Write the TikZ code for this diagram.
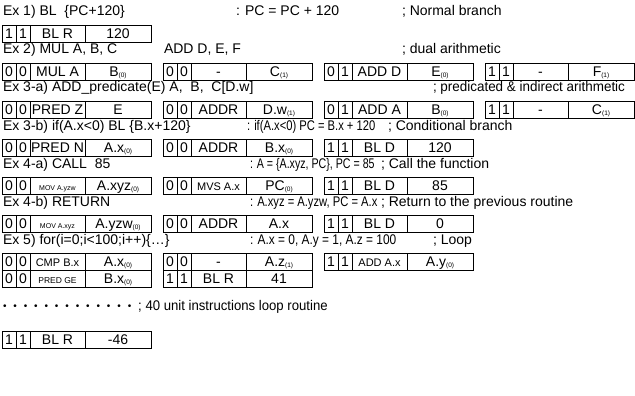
\documentclass[tikz,border=0pt]{standalone}
\usepackage{fontspec}
\usepackage{graphicx}
\setmainfont{Liberation Sans}
\usetikzlibrary{positioning}
\def \fh {17pt}    % field height
\def \bw {14pt}    % bit field
\def \ow {55pt}    % opcode field
\def \vw {66pt}    % operand field
\tikzset{
  field/.style = {draw, line width = 0.8pt, inner sep = 0pt, outer sep = 0pt,
    minimum height = \fh, text height = 10pt, text depth = 0pt, anchor = west},
  bit/.style = {field, minimum width = \bw},
  opcode/.style = {field, minimum width = \ow},
  operand/.style = {field, minimum width = \vw},
  caption/.style = {anchor = base west, inner sep = 0pt, outer sep = 0pt}
}
\newcommand{\ix}[1]{\raisebox{-1pt}{\fontsize{6.5}{7}\selectfont(#1)}}
\newcommand{\tinyop}{\fontsize{7}{8}\selectfont}
\newcommand{\smallop}{\fontsize{8.5}{9}\selectfont}
\newcommand{\midop}{\fontsize{11}{12}\selectfont}
\newcommand{\squeeze}[2]{\scalebox{#1}[1]{#2}}
%% one instruction word: name, top left, bit, bit, opcode, operand
\newcommand{\word}[6]{%
  \node [bit, anchor = north west] (#1a) at (#2) {#3};
  \node [bit] (#1b) [right = 0pt of #1a] {#4};
  \node [opcode] (#1c) [right = 0pt of #1b] {#5};
  \node [operand] (#1d) [right = 0pt of #1c] {#6};
}
\newcommand{\dotrow}{\foreach \k in {1,...,13}{\makebox[10.4pt][l]{\raisebox{0.6pt}{\fontsize{10}{10}\selectfont\textbullet}}}}

\begin{document}
\begin{tikzpicture}[x = 1pt, y = -1pt, font = \fontsize{14}{16}\selectfont]
\useasboundingbox (0,0) rectangle (635,396);

%% Ex 1
\node [caption] (t1) at (3,16) {Ex 1) BL~~\{PC+120\}};
\node [caption] (s1) at (236,16) {: PC = PC + 120};
\node [caption] (c1) at (402,16) {; Normal branch};
\word{w11}{2,25}{1}{1}{BL R}{120}

%% Ex 2
\node [caption] (t2) at (3,54) {Ex 2) MUL A, B, C};
\node [caption] (u2) at (164,54) {ADD D, E, F};
\node [caption] (c2) at (402,54) {; dual arithmetic};
\word{w21}{2,63}{0}{0}{MUL A}{B\ix{0}}
\word{w22}{163,63}{0}{0}{-}{C\ix{1}}
\word{w23}{324,63}{0}{1}{ADD D}{E\ix{0}}
\word{w24}{485,63}{1}{1}{-}{F\ix{1}}

%% Ex 3-a
\node [caption] (t3) at (3,92) {Ex 3-a) ADD\_predicate(E) A,~ B,~ C[D.w]};
\node [caption] (c3) at (433,92) {\squeeze{0.96}{; predicated \& indirect arithmetic}};
\word{w31}{2,101}{0}{0}{PRED Z}{E}
\word{w32}{163,101}{0}{0}{ADDR}{D.w\ix{1}}
\word{w33}{324,101}{0}{1}{ADD A}{B\ix{0}}
\word{w34}{485,101}{1}{1}{-}{C\ix{1}}

%% Ex 3-b
\node [caption] (t4) at (3,130) {Ex 3-b) if(A.x<0) BL \{B.x+120\}};
\node [caption] (s4) at (247,130) {\squeeze{0.8}{: if(A.x<0) PC = B.x + 120}};
\node [caption] (c4) at (388,130) {; Conditional branch};
\word{w41}{2,139}{0}{0}{PRED N}{A.x\ix{0}}
\word{w42}{163,139}{0}{0}{ADDR}{B.x\ix{0}}
\word{w43}{324,139}{1}{1}{BL D}{120}

%% Ex 4-a
\node [caption] (t5) at (3,168) {Ex 4-a) CALL~ 85};
\node [caption] (s5) at (250,168) {\squeeze{0.76}{: A = \{A.xyz, PC\}, PC = 85}};
\node [caption] (c5) at (381,168) {; Call the function};
\word{w51}{2,177}{0}{0}{\tinyop MOV A.yzw}{A.xyz\ix{0}}
\word{w52}{163,177}{0}{0}{\midop MVS A.x}{PC\ix{0}}
\word{w53}{324,177}{1}{1}{BL D}{85}

%% Ex 4-b
\node [caption] (t6) at (3,206) {Ex 4-b) RETURN};
\node [caption] (s6) at (250,206) {\squeeze{0.8}{: A.xyz = A.yzw, PC = A.x}};
\node [caption] (c6) at (381,206) {; Return to the previous routine};
\word{w61}{2,215}{0}{0}{\tinyop MOV A.xyz}{A.yzw\ix{0}}
\word{w62}{163,215}{0}{0}{ADDR}{A.x}
\word{w63}{324,215}{1}{1}{BL D}{0}

%% Ex 5
\node [caption] (t7) at (3,244) {Ex 5) for(i=0;i<100;i++)\{\ldots\}};
\node [caption] (s7) at (250,244) {\squeeze{0.85}{: A.x = 0, A.y = 1, A.z = 100}};
\node [caption] (c7) at (433,244) {; Loop};
\word{w71}{2,253}{0}{0}{\midop CMP B.x}{A.x\ix{0}}
\word{w72}{2,270}{0}{0}{\smallop PRED GE}{B.x\ix{0}}
\word{w73}{163,253}{0}{0}{-}{A.z\ix{1}}
\word{w74}{163,270}{1}{1}{BL R}{41}
\word{w75}{324,253}{1}{1}{\midop ADD A.x}{A.y\ix{0}}

%% loop body
\node [caption] (t8) at (3,310) {\dotrow\squeeze{0.94}{; 40 unit instructions loop routine}};
\word{w81}{2,331}{1}{1}{BL R}{-46}

\end{tikzpicture}
\end{document}
